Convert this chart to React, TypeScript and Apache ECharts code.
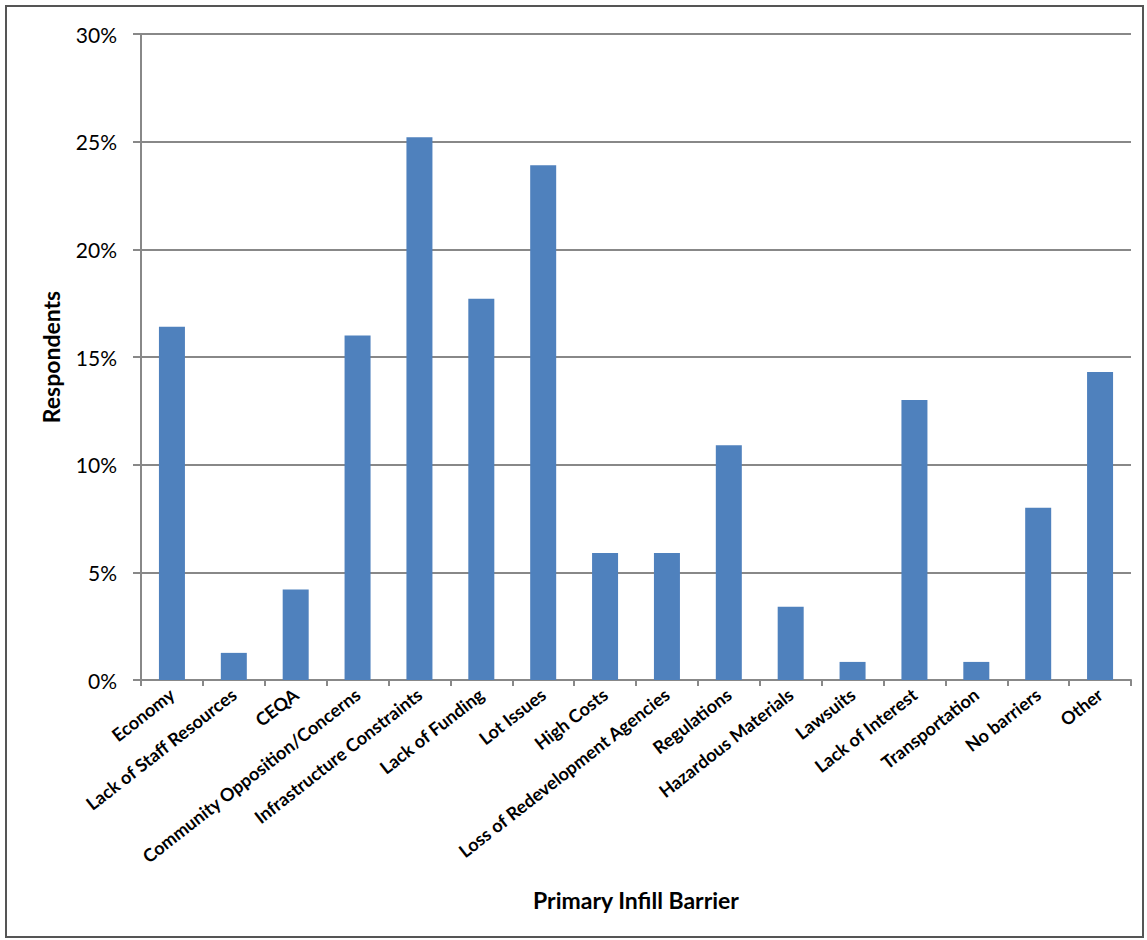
import React, { useEffect, useRef } from "react";
import * as echarts from "echarts";

const categories = [
  "Economy",
  "Lack of Staff Resources",
  "CEQA",
  "Community Opposition/Concerns",
  "Infrastructure Constraints",
  "Lack of Funding",
  "Lot Issues",
  "High Costs",
  "Loss of Redevelopment Agencies",
  "Regulations",
  "Hazardous Materials",
  "Lawsuits",
  "Lack of Interest",
  "Transportation",
  "No barriers",
  "Other",
];
const respondents = [16.4, 1.26, 4.2, 16.0, 25.2, 17.7, 23.9, 5.9, 5.9, 10.9, 3.4, 0.84, 13.0, 0.84, 8.0, 14.3];
const yTicks = [0, 5, 10, 15, 20, 25, 30];

export default function App() {
  const ref = useRef<HTMLDivElement>(null);
  useEffect(() => {
    document.body.style.margin = "0";
    const chart = echarts.init(ref.current!, null, { renderer: "svg" });
    const font = "Lato, 'Open Sans', sans-serif";
    chart.setOption({
      animation: false,
      backgroundColor: "#ffffff",
      graphic: [
        {
          type: "rect",
          shape: { x: 6, y: 6, width: 1137, height: 931 },
          style: { fill: "none", stroke: "#555", lineWidth: 2 },
        },
      ],
      grid: { left: 141, right: 16, top: 34, bottom: 260, containLabel: false },
      xAxis: {
        type: "category",
        data: categories,
        boundaryGap: true,
        name: "Primary Infill Barrier",
        nameLocation: "middle",
        nameGap: 208,
        nameTextStyle: { fontFamily: font, fontWeight: "bold", fontSize: 23, color: "#000" },
        axisLine: { lineStyle: { color: "#888888", width: 2 } },
        axisTick: { show: true, alignWithLabel: false, length: 6, lineStyle: { color: "#888888", width: 2 } },
        axisLabel: {
          interval: 0,
          rotate: 38,
          margin: 12,
          fontFamily: font,
          fontWeight: "bold",
          fontSize: 18,
          color: "#000",
        },
      },
      yAxis: {
        type: "value",
        min: 0,
        max: 30,
        interval: 5,
        name: "Respondents",
        nameLocation: "middle",
        nameGap: 79,
        nameTextStyle: { fontFamily: font, fontWeight: "bold", fontSize: 23, color: "#000" },
        axisLine: { show: true, lineStyle: { color: "#888888", width: 2 } },
        axisTick: { show: true, length: 8, lineStyle: { color: "#888888", width: 2 } },
        splitLine: { show: true, lineStyle: { color: "#888888", width: 2 } },
        axisLabel: {
          margin: 24,
          fontFamily: font,
          fontSize: 21,
          color: "#000",
          formatter: (v: number) => (yTicks.includes(v) ? v + "%" : ""),
        },
      },
      series: [
        {
          type: "bar",
          data: respondents,
          barWidth: 26,
          itemStyle: { color: "#4f81bd" },
        },
      ],
    });
    return () => chart.dispose();
  }, []);
  return <div ref={ref} style={{ position: "absolute", left: 0, top: 0, width: 1147, height: 940 }} />;
}
